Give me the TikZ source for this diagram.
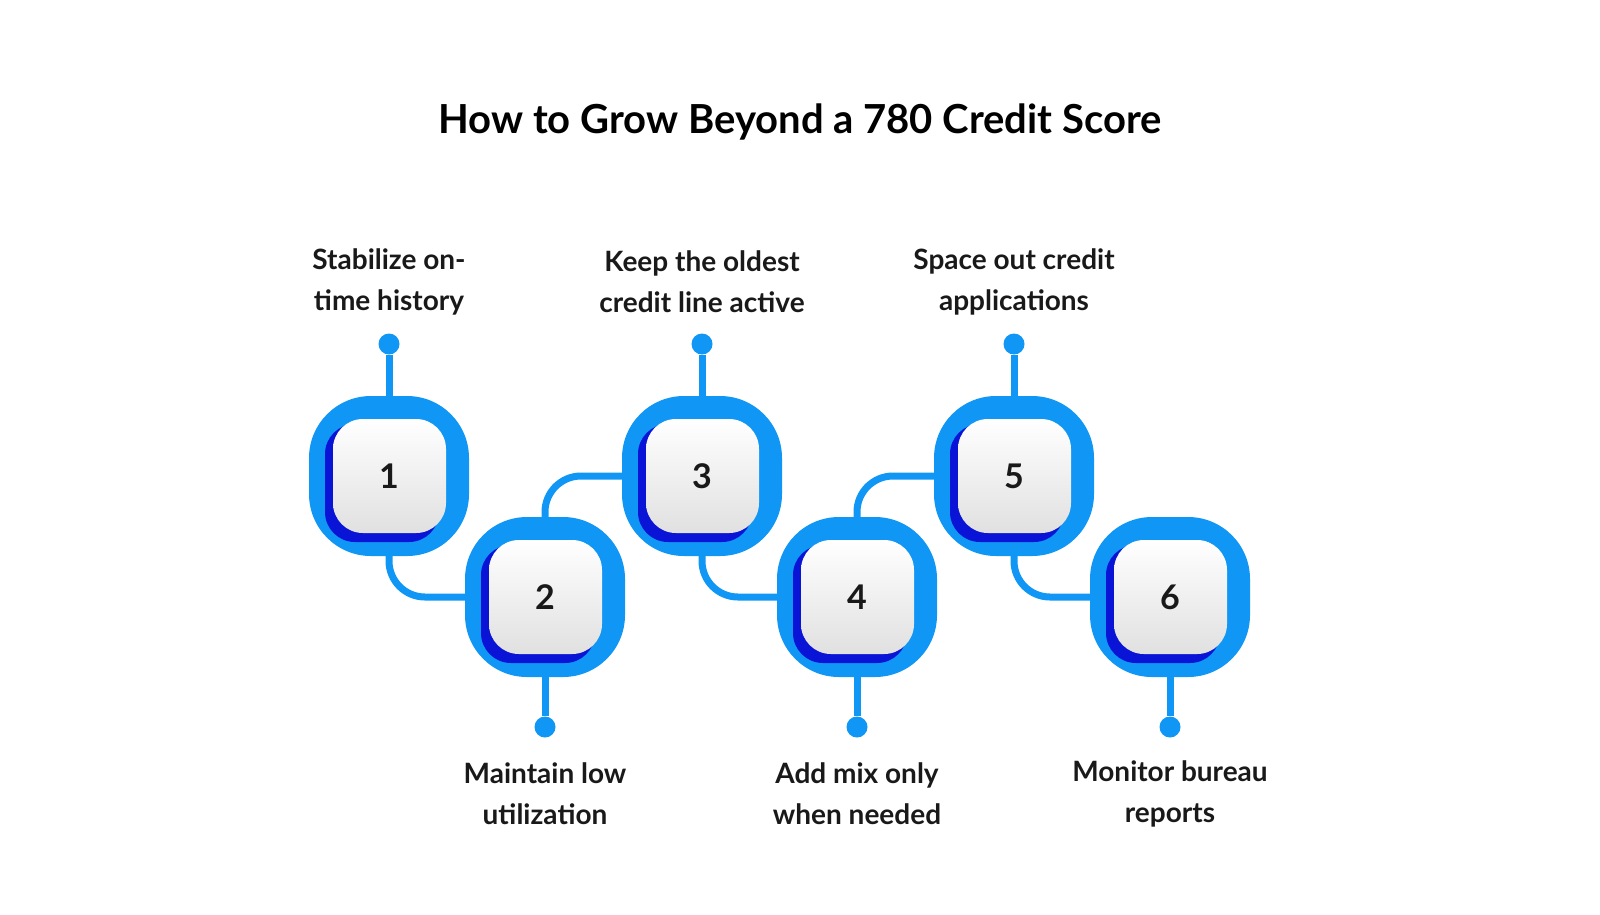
\documentclass[tikz,border=0pt]{standalone}
\usetikzlibrary{calc}
\usepackage{fontspec}
\setmainfont{Lato}
\begin{document}
\begin{tikzpicture}[x=1pt,y=-1pt,
  conn/.style={line width=7pt,draw={rgb,255:red,16;green,150;blue,245}},
  dot/.style={circle,fill={rgb,255:red,16;green,150;blue,245},minimum size=21pt,inner sep=0pt},
  lab/.style={align=center,font=\bfseries\fontsize{28}{41}\selectfont,text=black!90},
  num/.style={font=\bfseries\fontsize{34}{40}\selectfont,text=black!90}]
\definecolor{bl}{RGB}{16,150,245}
\definecolor{dbl}{RGB}{10,20,215}
\useasboundingbox (0,0) rectangle (1600,914);
\node[font=\bfseries\fontsize{40}{48}\selectfont] (title) at (800,122) {How to Grow Beyond a 780 Credit Score};
\foreach \i/\x/\y in {1/389/476,2/545/597,3/702/476,4/857/597,5/1014/476,6/1170/597}{
  \coordinate (c\i) at (\x,\y);
}
% connectors between nodes
\foreach \a/\b in {1/2,3/4,5/6}{
  \draw[conn,rounded corners=36pt] ($(c\a)+(0,60)$) |- ($(c\b)+(-70,0)$);
}
\foreach \a/\b in {2/3,4/5}{
  \draw[conn,rounded corners=36pt] ($(c\a)+(0,-60)$) |- ($(c\b)+(-70,0)$);
}
% stems & labels
\foreach \i/\t in {1/{Stabilize on-\\time history},3/{Keep the oldest\\credit line active},5/{Space out credit\\applications}}{
  \node[dot] (d\i) at ($(c\i)+(0,-132)$) {};
  \draw[conn] (d\i) -- ($(c\i)+(0,-60)$);
  \node[lab] (l\i) at ($(c\i)+(0,-194)$) {\t};
}
\foreach \i/\t in {2/{Maintain low\\utilization},4/{Add mix only\\when needed},6/{Monitor bureau\\reports}}{
  \node[dot] (d\i) at ($(c\i)+(0,130)$) {};
  \draw[conn] (d\i) -- ($(c\i)+(0,60)$);
  \node[lab] (l\i) at ($(c\i)+(0,197)$) {\t};
}
% node bodies
\foreach \i in {1,...,6}{
  \fill[bl,rounded corners=62pt] ($(c\i)+(-80,-80)$) rectangle ($(c\i)+(80,80)$);
  \fill[dbl,rounded corners=30pt] ($(c\i)+(-64,-52)$) rectangle ($(c\i)+(50,66)$);
  \shade[rounded corners=30pt,top color=white,bottom color=black!12] ($(c\i)+(-56,-57)$) rectangle ($(c\i)+(57,57)$);
  \node[num] (n\i) at (c\i) {\i};
}
\end{tikzpicture}
\end{document}
